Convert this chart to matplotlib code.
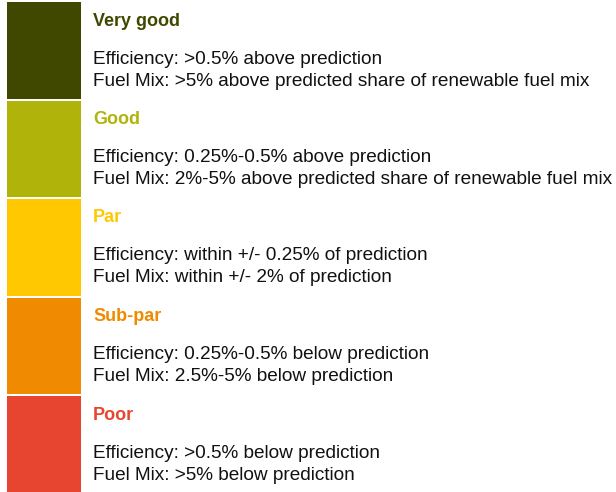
import matplotlib.pyplot as plt

categories = ["Very good", "Good", "Par", "Sub-par", "Poor"]
colors = ["#404800", "#b0b40a", "#ffc800", "#f08a00", "#e84530"]
efficiency = [
    "Efficiency: >0.5% above prediction",
    "Efficiency: 0.25%-0.5% above prediction",
    "Efficiency: within +/- 0.25% of prediction",
    "Efficiency: 0.25%-0.5% below prediction",
    "Efficiency: >0.5% below prediction",
]
fuel_mix = [
    "Fuel Mix: >5% above predicted share of renewable fuel mix",
    "Fuel Mix: 2%-5% above predicted share of renewable fuel mix",
    "Fuel Mix: within +/- 2% of prediction",
    "Fuel Mix: 2.5%-5% below prediction",
    "Fuel Mix: >5% below prediction",
]

plt.rcParams['font.family'] = ['Liberation Sans', 'DejaVu Sans']

fig = plt.figure(figsize=(6.16, 4.92), dpi=100)
ax = fig.add_axes([0, 0, 1, 1])
ax.set_xlim(0, 616)
ax.set_ylim(492, 0)
ax.axis('off')

# stacked color blocks, one row per category
step = 98.5
top = 2
for i, (cat, col) in enumerate(zip(categories, colors)):
    y0 = top + i * step
    ax.bar(44, step - 2, width=74, bottom=y0, color=col, align='center')
    ax.text(93, y0 + 19, cat, color=col, fontsize=13, fontweight='bold', va='center')
    ax.text(93, y0 + 57, efficiency[i], color='#111111', fontsize=13.7, va='center')
    ax.text(93, y0 + 79, fuel_mix[i], color='#111111', fontsize=13.7, va='center')

fig.savefig("out.png", dpi=100)
